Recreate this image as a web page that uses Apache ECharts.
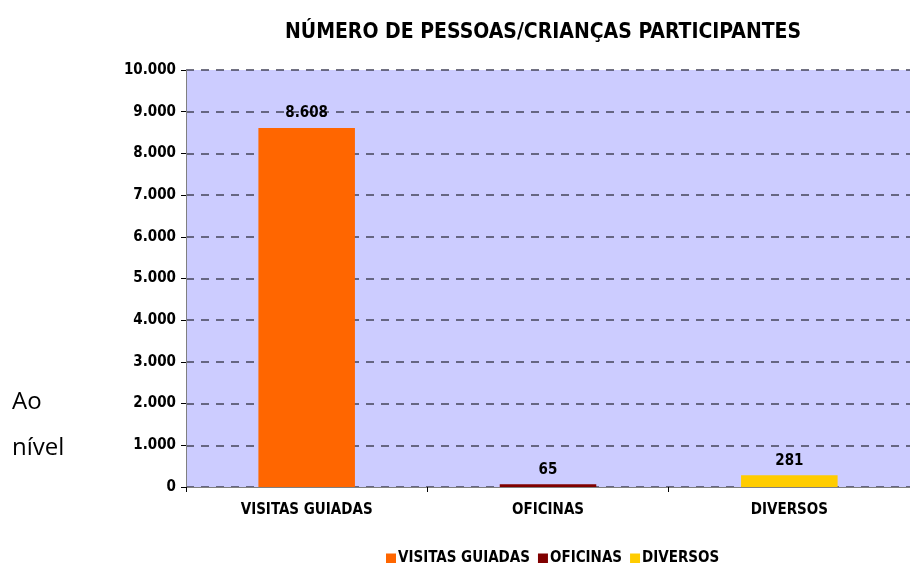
<!DOCTYPE html>
<html lang="pt">

<head>
    <meta charset="UTF-8">
    <title>Número de pessoas/crianças participantes</title>
</head>
<style>
    html, body { margin: 0; padding: 0; background: #fff; }
    .box { width: 910px; height: 563px; }
</style>

<body>
    <div class="box" id="myChart"></div>
    <script src="https://cdn.jsdelivr.net/npm/echarts@6/dist/echarts.min.js"></script>
    <script>
        // dados
        const categories = ['VISITAS GUIADAS', 'OFICINAS', 'DIVERSOS'];
        const values = [8608, 65, 281];
        const barColors = ['#FF6600', '#800000', '#FFCC00'];

        const fmt = v => String(v).replace(/\B(?=(\d{3})+(?!\d))/g, '.');
        const font = 'Tahoma, "DejaVu Sans Condensed", "DejaVu Sans", sans-serif';

        let myEchart = echarts.init(document.getElementById('myChart'));
        let option = {
            animation: false,
            title: {
                text: 'NÚMERO DE PESSOAS/CRIANÇAS PARTICIPANTES',
                left: 280,
                top: 17,
                textStyle: { fontFamily: font, fontSize: 21, fontWeight: 'bold', color: '#000' }
            },
            legend: {
                left: 381,
                top: 546,
                itemWidth: 10,
                itemHeight: 10,
                itemGap: 8,
                icon: 'rect',
                textStyle: { fontFamily: font, fontSize: 15, fontWeight: 'bold', color: '#000', padding: [0, 0, 0, -3] },
                data: categories
            },
            grid: {
                left: 186,
                right: 0,
                top: 70,
                bottom: 76,
                backgroundColor: '#CCCCFF',
                show: true,
                borderWidth: 0
            },
            xAxis: {
                type: 'category',
                data: categories,
                axisLine: { lineStyle: { color: '#808080', width: 1 } },
                axisTick: { show: true, length: 5, lineStyle: { color: '#000' } },
                axisLabel: { fontFamily: font, fontSize: 15, fontWeight: 'bold', color: '#000', margin: 16 }
            },
            yAxis: {
                type: 'value',
                min: 0,
                max: 10000,
                interval: 1000,
                axisLine: { show: true, lineStyle: { color: '#808080' } },
                axisTick: { show: true, length: 5, lineStyle: { color: '#000' } },
                axisLabel: { fontFamily: font, fontSize: 15, fontWeight: 'bold', color: '#000', margin: 10, formatter: fmt },
                splitLine: { lineStyle: { color: '#44445a', type: [8, 7], width: 1.5 } }
            },
            series: categories.map((c, i) => ({
                name: c,
                type: 'bar',
                stack: 'all',
                barWidth: '40%',
                itemStyle: { color: barColors[i] },
                label: {
                    show: true,
                    position: 'top',
                    distance: 7,
                    fontFamily: font,
                    fontSize: 15,
                    fontWeight: 'bold',
                    color: '#000',
                    formatter: p => fmt(p.value)
                },
                data: categories.map((_, j) => (j === i ? values[i] : '-'))
            })),
            graphic: [
                { type: 'text', left: 12, top: 390, style: { text: 'Ao', font: '24px "Open Sans", "Noto Sans", sans-serif', fill: '#000' } },
                { type: 'text', left: 12, top: 436, style: { text: 'nível', font: '24px "Open Sans", "Noto Sans", sans-serif', fill: '#000' } }
            ]
        };
        myEchart.setOption(option, true);
    </script>
</body>

</html>
